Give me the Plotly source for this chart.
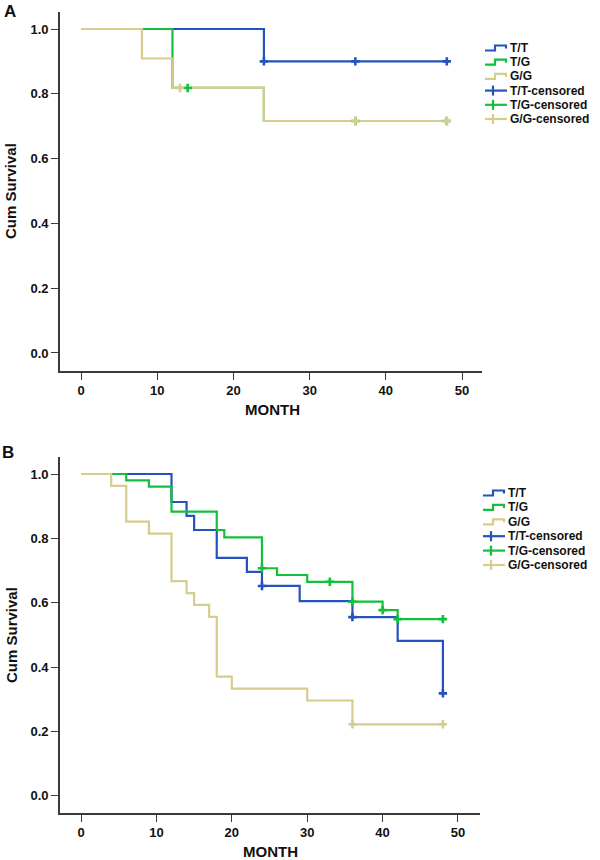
import plotly.graph_objects as go

W, H = 600, 860
FONT = "Arial, Liberation Sans, Helvetica, sans-serif"

# colours
C_TT = "#2453bd"
C_TG = "#12c03c"
C_GG = "#d6cc8e"

# ---------------- Panel A data ----------------
a_tt_time = [0, 24, 48]
a_tt_surv = [1.0, 0.900, 0.900]
a_tt_cens_time = [24, 36, 48]
a_tt_cens_surv = [0.900, 0.900, 0.900]

a_tg_time = [0, 12, 24, 48]
a_tg_surv = [1.0, 0.818, 0.716, 0.716]
a_tg_cens_time = [14, 36, 48]
a_tg_cens_surv = [0.818, 0.716, 0.716]

a_gg_time = [0, 8, 12, 24, 48]
a_gg_surv = [1.0, 0.909, 0.818, 0.716, 0.716]
a_gg_cens_time = [13, 36, 48]
a_gg_cens_surv = [0.818, 0.716, 0.716]

# ---------------- Panel B data ----------------
b_tt_time = [0, 12, 14, 15, 18, 22, 24, 29, 36, 42, 48]
b_tt_surv = [1.0, 0.913, 0.870, 0.826, 0.739, 0.696, 0.652, 0.605, 0.555, 0.481, 0.318]
b_tt_cens_time = [24, 36, 48]
b_tt_cens_surv = [0.652, 0.555, 0.318]

b_tg_time = [0, 6, 9, 12, 18, 19, 24, 26, 30, 36, 40, 42, 48]
b_tg_surv = [1.0, 0.980, 0.961, 0.883, 0.826, 0.803, 0.707, 0.686, 0.665, 0.603, 0.577, 0.549, 0.549]
b_tg_cens_time = [24, 33, 36, 40, 42, 48]
b_tg_cens_surv = [0.707, 0.665, 0.603, 0.577, 0.549, 0.549]

b_gg_time = [0, 4, 6, 9, 12, 14, 15, 17, 18, 20, 30, 36, 48]
b_gg_surv = [1.0, 0.963, 0.852, 0.815, 0.667, 0.630, 0.593, 0.556, 0.370, 0.333, 0.296, 0.222, 0.222]
b_gg_cens_time = [36, 48]
b_gg_cens_surv = [0.222, 0.222]

legend_labels = ["T/T", "T/G", "G/G", "T/T-censored", "T/G-censored", "G/G-censored"]
x_ticks = [0, 10, 20, 30, 40, 50]
y_ticks = [0.0, 0.2, 0.4, 0.6, 0.8, 1.0]

fig = go.Figure()

def add_panel(xa, ya, series):
    # lines first
    for t, s, c, ct, cs in series:
        fig.add_trace(go.Scatter(x=t, y=s, mode="lines", line=dict(color=c, width=2.2, shape="hv"),
                                 xaxis=xa, yaxis=ya, showlegend=False, hoverinfo="skip"))
    for t, s, c, ct, cs in series:
        fig.add_trace(go.Scatter(x=ct, y=cs, mode="markers",
                                 marker=dict(symbol="cross-thin", size=6, color=c,
                                             line=dict(color=c, width=2.6)),
                                 xaxis=xa, yaxis=ya, showlegend=False, hoverinfo="skip"))

add_panel("x", "y", [
    (a_tt_time, a_tt_surv, C_TT, a_tt_cens_time, a_tt_cens_surv),
    (a_tg_time, a_tg_surv, C_TG, a_tg_cens_time, a_tg_cens_surv),
    (a_gg_time, a_gg_surv, C_GG, a_gg_cens_time, a_gg_cens_surv),
])
add_panel("x2", "y2", [
    (b_tt_time, b_tt_surv, C_TT, b_tt_cens_time, b_tt_cens_surv),
    (b_tg_time, b_tg_surv, C_TG, b_tg_cens_time, b_tg_cens_surv),
    (b_gg_time, b_gg_surv, C_GG, b_gg_cens_time, b_gg_cens_surv),
])

def px(x):
    return x / W

def py(y):
    return 1 - y / H

axis_common = dict(showline=True, linecolor="#3a3a3a", linewidth=1.6, ticks="outside",
                   ticklen=7, tickwidth=1.4, tickcolor="#3a3a3a", showgrid=False,
                   zeroline=False, automargin=False, mirror=False,
                   tickfont=dict(family=FONT, size=13, color="#111", weight="bold"))

fig.update_layout(
    width=W, height=H, margin=dict(l=0, r=0, t=0, b=0),
    paper_bgcolor="white", plot_bgcolor="white", showlegend=False,
    xaxis=dict(domain=[px(60), px(482)], range=[-2.76, 52.62], anchor="y",
               tickvals=x_ticks, **axis_common),
    yaxis=dict(domain=[py(371), py(12)], range=[-0.0556, 1.0525], anchor="x",
               tickvals=y_ticks, tickformat=".1f", **axis_common),
    xaxis2=dict(domain=[px(60), px(480)], range=[-2.79, 52.92], anchor="y2",
                tickvals=x_ticks, **axis_common),
    yaxis2=dict(domain=[py(813), py(457)], range=[-0.0538, 1.0529], anchor="x2",
                tickvals=y_ticks, tickformat=".1f", **axis_common),
)

ann = []
def text(x, y, s, size, angle=0, xanchor="center"):
    ann.append(dict(x=px(x), y=py(y), xref="paper", yref="paper", text=s, showarrow=False,
                    textangle=angle, xanchor=xanchor, yanchor="middle",
                    font=dict(family=FONT, size=size, color="#111", weight="bold")))

text(10, 12, "A", 17)
text(8, 452, "B", 17)
text(11, 191, "Cum Survival", 15, angle=-90)
text(11, 635, "Cum Survival", 15, angle=-90)
text(272, 410, "MONTH", 15)
text(270, 851, "MONTH", 15)

shapes = []
colors = [C_TT, C_TG, C_GG, C_TT, C_TG, C_GG]

def legend(x0, y0, dy, tx):
    for i, (lab, c) in enumerate(zip(legend_labels, colors)):
        y = y0 + i * dy
        if i < 3:
            path = (f"M {px(x0)},{py(y+2.5)} L {px(x0+10)},{py(y+2.5)} L {px(x0+10)},{py(y-2.5)} "
                    f"L {px(x0+21)},{py(y-2.5)} L {px(x0+21)},{py(y+0.5)}")
            shapes.append(dict(type="path", path=path, xref="paper", yref="paper",
                               line=dict(color=c, width=2.2)))
        else:
            shapes.append(dict(type="line", x0=px(x0), x1=px(x0+22), y0=py(y), y1=py(y),
                               xref="paper", yref="paper", line=dict(color=c, width=2.2)))
            shapes.append(dict(type="line", x0=px(x0+8), x1=px(x0+8), y0=py(y-5), y1=py(y+5),
                               xref="paper", yref="paper", line=dict(color=c, width=2.2)))
        text(tx, y, lab, 12, xanchor="left")

legend(485, 48, 14.2, 508)
legend(483, 493, 14.4, 506)

fig.update_layout(annotations=ann, shapes=shapes)
fig.write_html("out.html", config={"displayModeBar": False},
               post_script="document.body.style.margin='0';document.body.style.padding='0';")
